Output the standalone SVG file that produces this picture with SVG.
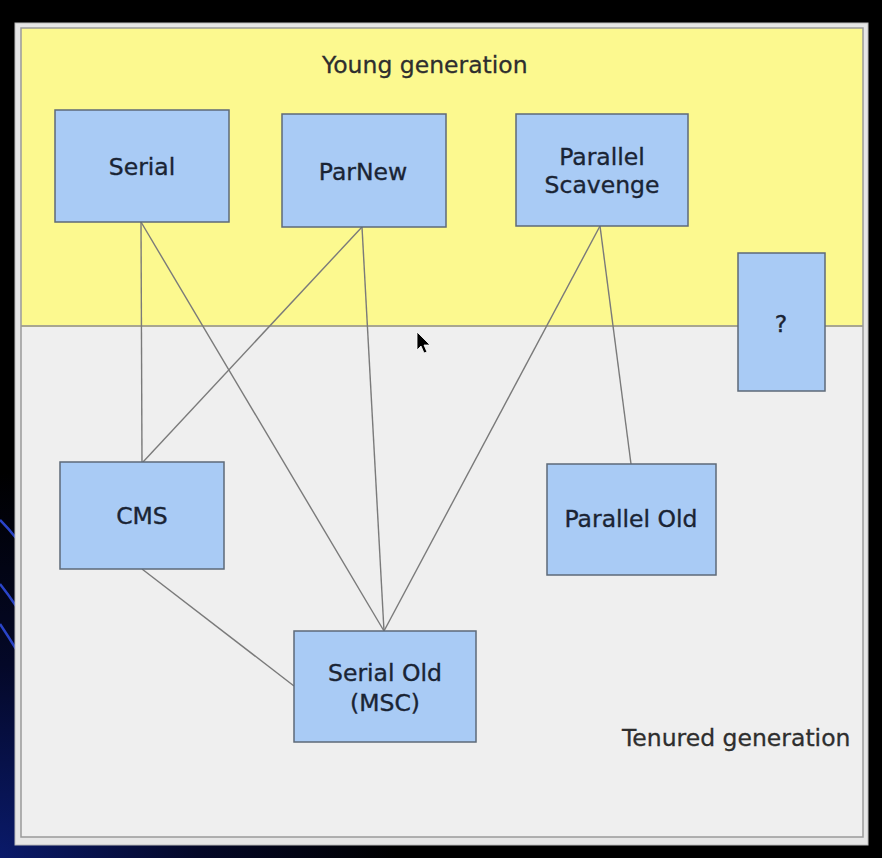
<svg xmlns="http://www.w3.org/2000/svg" width="882" height="858" viewBox="0 0 882 858">
<defs>
<radialGradient id="bg" cx="0" cy="1" r="0.45">
<stop offset="0" stop-color="#0a1a6a"/>
<stop offset="0.5" stop-color="#040828"/>
<stop offset="1" stop-color="#000000"/>
</radialGradient>
<style>
.box{fill:#a9cbf5;stroke:#5e6a78;stroke-width:1.5}
.lbl{font-family:"DejaVu Sans",Verdana,sans-serif;font-size:23.5px;fill:#1a2434;stroke:#1a2434;stroke-width:0.35;text-anchor:middle}
.gen{font-family:"DejaVu Sans",Verdana,sans-serif;font-size:23.5px;fill:#2e2e2e;stroke:#2e2e2e;stroke-width:0.3}
.conn line{stroke:#7a7a7a;stroke-width:1.4;fill:none}
</style>
</defs>
<rect x="0" y="0" width="882" height="858" fill="url(#bg)"/>
<g stroke="#2a44c8" stroke-width="2.5" fill="none">
<path d="M0,520 Q8,528 16,538"/>
<path d="M0,584 Q8,594 16,606"/>
<path d="M0,624 Q8,636 16,649"/>
</g>
<rect x="15" y="23" width="853" height="822" fill="#e6e6e6" stroke="#bcbcbc" stroke-width="1"/>
<rect x="21" y="28" width="842" height="298" fill="#fcf98f"/>
<rect x="21" y="326" width="842" height="511" fill="#efefef"/>
<line x1="21" y1="326" x2="863" y2="326" stroke="#a8a690" stroke-width="2"/>
<rect x="21" y="28" width="842" height="809" fill="none" stroke="#9a9a9a" stroke-width="1.5"/>
<text class="gen" x="322" y="73">Young generation</text>
<text class="gen" x="622" y="746">Tenured generation</text>
<g class="conn" id="connectors">
<line x1="141" y1="222" x2="142" y2="462"/>
<line x1="141" y1="222" x2="384" y2="631"/>
<line x1="362" y1="227" x2="143" y2="462"/>
<line x1="362" y1="227" x2="384" y2="631"/>
<line x1="600" y1="226" x2="384" y2="631"/>
<line x1="600" y1="226" x2="631" y2="464"/>
<line x1="142" y1="569" x2="294" y2="686"/>
</g>
<g id="serial"><rect class="box" x="55" y="110" width="174" height="112"/><text class="lbl" x="142" y="175">Serial</text></g>
<g id="parnew"><rect class="box" x="282" y="114" width="164" height="113"/><text class="lbl" x="363" y="180">ParNew</text></g>
<g id="parallel-scavenge"><rect class="box" x="516" y="114" width="172" height="112"/><text class="lbl" x="602" y="165">Parallel</text><text class="lbl" x="602" y="193">Scavenge</text></g>
<g id="unknown"><rect class="box" x="738" y="253" width="87" height="138"/><text class="lbl" x="781" y="332">?</text></g>
<g id="cms"><rect class="box" x="60" y="462" width="164" height="107"/><text class="lbl" x="142" y="524">CMS</text></g>
<g id="parallel-old"><rect class="box" x="547" y="464" width="169" height="111"/><text class="lbl" x="631" y="527">Parallel Old</text></g>
<g id="serial-old"><rect class="box" x="294" y="631" width="182" height="111"/><text class="lbl" x="385" y="681">Serial Old</text><text class="lbl" x="385" y="711">(MSC)</text></g>
<path d="M417,332 L417,350 L421,346 L424,353 L427,352 L424,345 L430,345 Z" fill="#000" stroke="#fff" stroke-width="0.8"/>
</svg>
